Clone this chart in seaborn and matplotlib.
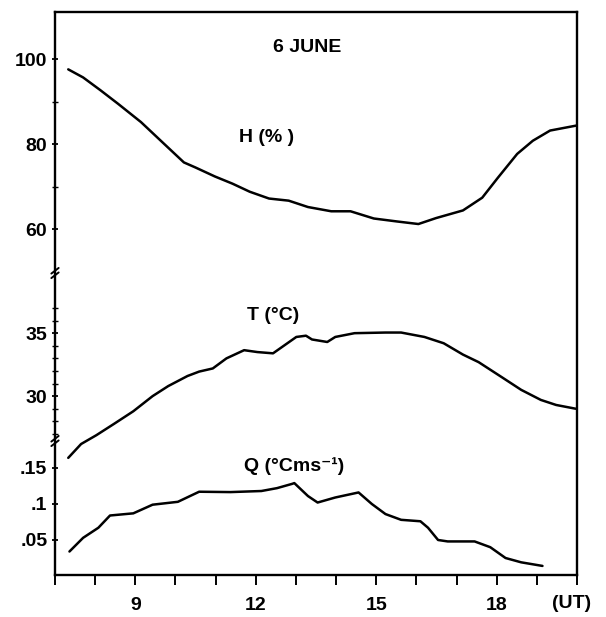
import matplotlib

matplotlib.use("Agg")

import matplotlib.pyplot as plt
import pandas as pd
import seaborn as sns
from matplotlib.ticker import FixedLocator, MultipleLocator

# humidity H (%)
h_hours = [7.33, 7.70, 8.13, 8.57, 9.14, 9.68, 10.21, 10.50, 10.98, 11.42, 11.85, 12.33,
           12.82, 13.30, 13.88, 14.36, 14.94, 15.52, 16.05, 16.49, 17.16, 17.64, 18.03,
           18.51, 18.90, 19.33, 20.0]
h_values = [97.6, 95.7, 92.7, 89.5, 85.2, 80.4, 75.7, 74.5, 72.4, 70.7, 68.8, 67.2,
            66.7, 65.2, 64.2, 64.2, 62.5, 61.8, 61.2, 62.6, 64.4, 67.4, 72.1,
            77.7, 80.8, 83.2, 84.4]

# temperature T (deg C)
t_hours = [7.33, 7.65, 8.03, 8.47, 8.95, 9.43, 9.82, 10.30, 10.59, 10.93, 11.27, 11.71,
           12.04, 12.43, 12.72, 13.01, 13.25, 13.40, 13.78, 13.98, 14.46, 15.23, 15.62,
           16.20, 16.68, 17.16, 17.55, 18.13, 18.61, 19.10, 19.48, 19.97]
t_values = [25.1, 26.2, 26.9, 27.8, 28.8, 30.0, 30.8, 31.6, 31.95, 32.2, 33.0, 33.65,
            33.5, 33.4, 34.05, 34.7, 34.8, 34.5, 34.3, 34.7, 35.0, 35.05, 35.05,
            34.7, 34.2, 33.3, 32.7, 31.5, 30.5, 29.7, 29.3, 29.0]

# heat flux Q (deg C m/s)
q_hours = [7.36, 7.70, 8.08, 8.37, 8.95, 9.43, 10.06, 10.59, 11.37, 12.14, 12.53, 12.91,
           12.96, 13.30, 13.54, 13.98, 14.56, 14.89, 15.23, 15.62, 16.10, 16.29, 16.54,
           16.78, 17.45, 17.84, 18.22, 18.61, 19.14]
q_values = [0.034, 0.053, 0.067, 0.084, 0.087, 0.099, 0.103, 0.117, 0.1165, 0.118, 0.122, 0.128,
            0.129, 0.111, 0.102, 0.109, 0.116, 0.100, 0.086, 0.078, 0.076, 0.067, 0.050,
            0.048, 0.048, 0.040, 0.025, 0.019, 0.014]

hour_ticks = [9, 12, 15, 18]
q_ticks = [0.05, 0.1, 0.15]
q_labels = [".05", ".1", ".15"]
t_ticks = [30, 35]
h_ticks = [60, 80, 100]

sns.set_style("ticks")
plt.rcParams["font.family"] = ["Liberation Sans", "DejaVu Sans"]
plt.rcParams["font.weight"] = "bold"
for key in ("text.color", "xtick.color", "ytick.color", "axes.edgecolor", "axes.labelcolor"):
    plt.rcParams[key] = "black"

fig = plt.figure(figsize=(6.06, 6.17), dpi=100)
box = [55 / 606, 1 - 575 / 617, 522 / 606, 563 / 617]
ax_q = fig.add_axes(box)
ax_t = fig.add_axes(box, sharex=ax_q)
ax_h = fig.add_axes(box, sharex=ax_q)

line_kw = dict(color="black", linewidth=1.8, solid_joinstyle="round", solid_capstyle="round")
sns.lineplot(data=pd.DataFrame({"hour": q_hours, "q": q_values}), x="hour", y="q", ax=ax_q, **line_kw)
sns.lineplot(data=pd.DataFrame({"hour": t_hours, "t": t_values}), x="hour", y="t", ax=ax_t, **line_kw)
sns.lineplot(data=pd.DataFrame({"hour": h_hours, "h": h_values}), x="hour", y="h", ax=ax_h, **line_kw)

ax_q.set_ylim(0.0014, 0.783)
ax_t.set_ylim(15.8, 60.5)
ax_h.set_ylim(-21.4, 111.1)
ax_q.set_xlim(7, 20)

for ax in (ax_q, ax_t, ax_h):
    ax.set_xlabel("")
    ax.set_ylabel("")
    ax.tick_params(axis="y", which="major", direction="inout", length=5, width=1.3,
                   labelsize=14, pad=3)
    ax.tick_params(axis="y", which="minor", direction="inout", length=4, width=1.0)

ax_q.yaxis.set_major_locator(FixedLocator(q_ticks))
ax_q.set_yticklabels(q_labels)
ax_t.yaxis.set_major_locator(FixedLocator(t_ticks))
ax_t.yaxis.set_minor_locator(FixedLocator([27, 28, 29, 31, 32, 33, 34, 36, 37]))
ax_t.set_yticklabels([str(v) for v in t_ticks])
ax_h.yaxis.set_major_locator(FixedLocator(h_ticks))
ax_h.yaxis.set_minor_locator(FixedLocator([70, 90]))
ax_h.set_yticklabels([str(v) for v in h_ticks])

ax_q.xaxis.set_major_locator(FixedLocator(hour_ticks))
ax_q.xaxis.set_minor_locator(MultipleLocator(1))
ax_q.set_xticklabels([str(h) for h in hour_ticks])
ax_q.tick_params(axis="x", which="both", direction="out", length=7, width=1.4,
                 labelsize=14, pad=9)

for spine in ax_q.spines.values():
    spine.set_linewidth(1.7)
for ax in (ax_t, ax_h):
    ax.patch.set_visible(False)
    for spine in ax.spines.values():
        spine.set_visible(False)
    ax.tick_params(axis="x", which="both", bottom=False, labelbottom=False)

# axis breaks on the left spine
for yb in (0.238, 0.5364):
    for dy in (-0.004, 0.004):
        ax_q.plot([-0.007, 0.007], [yb + dy - 0.005, yb + dy + 0.005], transform=ax_q.transAxes,
                  color="black", linewidth=1.4, clip_on=False)

label_kw = dict(fontsize=14, fontweight="bold", ha="center", va="center")
fig.text(307 / 606, 1 - 48 / 617, "6 JUNE", **label_kw)
fig.text(267 / 606, 1 - 138 / 617, "H (% )", **label_kw)
fig.text(273 / 606, 1 - 315 / 617, "T (°C)", **label_kw)
fig.text(294 / 606, 1 - 466 / 617, "Q (°Cms⁻¹)", **label_kw)
fig.text(572 / 606, 1 - 604 / 617, "(UT)", fontsize=14, fontweight="bold", ha="center", va="center")

fig.savefig("out.png", dpi=100)
